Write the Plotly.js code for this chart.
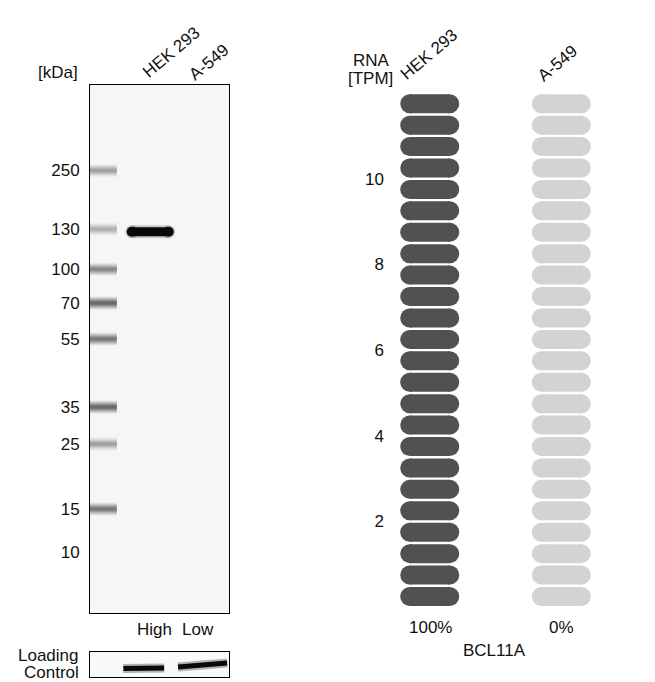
<!DOCTYPE html>
<html>
<head>
<meta charset="utf-8">
<script src="https://cdn.plot.ly/plotly-3.0.1.min.js"></script>
<style>html,body{margin:0;padding:0;background:#fff}#chart{width:655px;height:682px}</style>
</head>
<body>
<div id="chart"></div>
<script>
// ---------------- DATA ----------------
// Western blot: molecular-weight ladder (kDa) and relative migration (0 = top of gel, 1 = bottom)
const ladderKDa = [250, 130, 100, 70, 55, 35, 25, 15, 10];
const ladderMigration = [0.162, 0.273, 0.349, 0.413, 0.481, 0.610, 0.680, 0.803, 0.884];
const ladderIntensity = [0.40, 0.30, 0.55, 0.80, 0.65, 0.80, 0.40, 0.65, 0.0];

// Sample lanes
const cellLines = ['HEK 293', 'A-549'];
const sampleBandMigration = [0.278, null];   // BCL11A band (~130 kDa)
const sampleBandIntensity = [1.0, 0.0];
const expressionLevel = ['High', 'Low'];

// Loading control bands (relative vertical position in the strip, left/right end)
const loadingBandLeft = [0.34, 0.40];
const loadingBandRight = [0.36, 0.56];

// RNA expression (TPM)
const rnaTPM = [12.0, 0.0];
const gene = 'BCL11A';
const rnaTicks = [2, 4, 6, 8, 10];

// ---------------- LAYOUT CONSTANTS ----------------
const W = 655, H = 682;
const px = v => v / W;
const py = v => 1 - v / H;
const FONT = 'Liberation Sans, Arial, sans-serif';
const TXT = '#111';

// lane extents in blot x-units (range 0..3)
const ladderLane = [0.0, 0.58];
const sampleLaneBlot = [[0.90, 1.70], [2.05, 2.85]];
const sampleLaneLoad = [[0.72, 1.60], [1.90, 2.96]];

const traces = [];

// ladder bands: many thin layers for soft edges
const blur = [{w: 13, a: 0.07}, {w: 11, a: 0.09}, {w: 9, a: 0.12}, {w: 7, a: 0.15}, {w: 5, a: 0.18}, {w: 3, a: 0.2}];
ladderMigration.forEach((m, i) => {
  const k = ladderIntensity[i];
  if (k <= 0) return;
  blur.forEach(b => {
    traces.push({
      type: 'scatter', mode: 'lines', xaxis: 'x', yaxis: 'y',
      x: [ladderLane[0], ladderLane[1]], y: [m, m],
      line: {color: 'rgba(45,45,45,' + (b.a * k * 1.6).toFixed(3) + ')', width: b.w},
      hoverinfo: 'skip'
    });
  });
});

// sample bands
sampleBandMigration.forEach((m, i) => {
  const k = sampleBandIntensity[i];
  if (m === null || k <= 0) return;
  const xs = sampleLaneBlot[i];
  traces.push({
    type: 'scatter', mode: 'lines+markers', xaxis: 'x', yaxis: 'y',
    x: [xs[0], xs[1]], y: [m, m],
    line: {color: 'rgba(20,20,20,' + (0.2 * k) + ')', width: 13},
    marker: {size: 13, color: 'rgba(20,20,20,' + (0.2 * k) + ')', line: {width: 0}},
    hoverinfo: 'skip'
  });
  traces.push({
    type: 'scatter', mode: 'lines+markers', xaxis: 'x', yaxis: 'y',
    x: [xs[0], xs[1]], y: [m, m],
    line: {color: 'rgba(8,8,8,' + k + ')', width: 9},
    marker: {size: 10, color: 'rgba(8,8,8,' + k + ')', line: {width: 0}},
    hoverinfo: 'skip'
  });
});

// loading control bands
cellLines.forEach((c, i) => {
  const xs = sampleLaneLoad[i];
  traces.push({
    type: 'scatter', mode: 'lines', xaxis: 'x2', yaxis: 'y2',
    x: [xs[0], xs[1]], y: [loadingBandLeft[i], loadingBandRight[i]],
    line: {color: 'rgba(10,10,10,0.3)', width: 9}, hoverinfo: 'skip'
  });
  traces.push({
    type: 'scatter', mode: 'lines', xaxis: 'x2', yaxis: 'y2',
    x: [xs[0], xs[1]], y: [loadingBandLeft[i], loadingBandRight[i]],
    line: {color: '#0a0a0a', width: 5}, hoverinfo: 'skip'
  });
});

// RNA pills: 24 segments of 0.5 TPM per cell line
const PILL_STEP = 0.5, PILL_COUNT = 24, PILL_HALF = 0.152;
const dark = {x: [], y: []}, light = {x: [], y: []};
rnaTPM.forEach((v, ci) => {
  for (let p = 0; p < PILL_COUNT; p++) {
    const yc = (p + 0.5) * PILL_STEP;
    const tgt = (p * PILL_STEP < v) ? dark : light;
    tgt.x.push(ci - PILL_HALF, ci + PILL_HALF, null);
    tgt.y.push(yc, yc, null);
  }
});
[[dark, '#515151'], [light, '#d3d3d3']].forEach(([d, col]) => {
  traces.push({
    type: 'scatter', mode: 'lines+markers', xaxis: 'x3', yaxis: 'y3',
    x: d.x, y: d.y, connectgaps: false,
    line: {color: col, width: 19},
    marker: {color: col, size: 19, line: {width: 0}},
    hoverinfo: 'skip'
  });
});

const maxTPM = Math.max(...rnaTPM);
const pct = rnaTPM.map(v => Math.round(v / maxTPM * 100) + '%');

const ann = [];
const addText = (text, x, y, opts) => ann.push(Object.assign({
  text, x, y, xref: 'paper', yref: 'paper', showarrow: false,
  xanchor: 'center', yanchor: 'middle',
  font: {family: FONT, size: 17, color: TXT}
}, opts || {}));

addText('[kDa]', px(80), py(72), {xanchor: 'right'});
addText(cellLines[0], px(171), py(52), {textangle: -40});
addText(cellLines[1], px(208.5), py(62), {textangle: -40});
addText(expressionLevel[0], px(154), py(629));
addText(expressionLevel[1], px(198), py(629));
addText('Loading', px(80), py(655.5), {xanchor: 'right', borderpad: 0});
addText('Control', px(80), py(672), {xanchor: 'right', borderpad: 0});
addText('RNA', px(371), py(60));
addText('[TPM]', px(370), py(78));
addText(cellLines[0], px(429), py(54.5), {textangle: -40});
addText(cellLines[1], px(557.5), py(63.5), {textangle: -40});
addText(pct[0], px(430), py(627));
addText(pct[1], px(561), py(627));
addText(gene, px(494.5), py(650));

const noAxis = {showgrid: false, zeroline: false, showticklabels: false, ticks: '', fixedrange: true};
const boxAxis = Object.assign({}, noAxis, {showline: true, mirror: true, linecolor: '#000', linewidth: 1});

const layout = {
  width: W, height: H,
  margin: {l: 0, r: 0, t: 0, b: 0},
  paper_bgcolor: '#fff', plot_bgcolor: '#fff',
  showlegend: false,
  font: {family: FONT, size: 17, color: TXT},
  xaxis: Object.assign({}, boxAxis, {domain: [px(90), px(229)], range: [0, 3], anchor: 'y'}),
  yaxis: Object.assign({}, boxAxis, {
    domain: [py(613), py(85)], range: [1, 0], anchor: 'x',
    showticklabels: true, tickvals: ladderMigration, ticktext: ladderKDa.map(String),
    tickfont: {family: FONT, size: 17, color: TXT}, ticklabelstandoff: 6
  }),
  xaxis2: Object.assign({}, boxAxis, {domain: [px(90), px(229)], range: [0, 3], anchor: 'y2'}),
  yaxis2: Object.assign({}, boxAxis, {domain: [py(677), py(652)], range: [0, 1], anchor: 'x2'}),
  xaxis3: Object.assign({}, noAxis, {domain: [px(385), px(620)], range: [-0.340, 1.446], anchor: 'y3'}),
  yaxis3: Object.assign({}, noAxis, {
    domain: [py(620), py(90)], range: [-0.299, 12.07], anchor: 'x3',
    showticklabels: true, tickvals: rnaTicks, ticktext: rnaTicks.map(String),
    tickfont: {family: FONT, size: 17, color: TXT}, ticklabelstandoff: 0
  }),
  shapes: [
    {type: 'rect', xref: 'x domain', yref: 'y domain', x0: 0, x1: 1, y0: 0, y1: 1,
     fillcolor: '#f6f6f6', line: {width: 0}, layer: 'below'},
    {type: 'rect', xref: 'x2 domain', yref: 'y2 domain', x0: 0, x1: 1, y0: 0, y1: 1,
     fillcolor: '#fafafa', line: {width: 0}, layer: 'below'}
  ],
  annotations: ann
};

Plotly.newPlot('chart', traces, layout, {staticPlot: true, displayModeBar: false});
</script>
</body>
</html>
